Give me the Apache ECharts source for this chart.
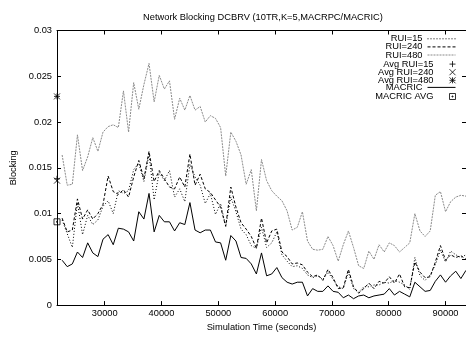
<!DOCTYPE html>
<html><head><meta charset="utf-8">
<script src="https://cdn.jsdelivr.net/npm/echarts@6/dist/echarts.min.js"></script>
<style>html,body{margin:0;padding:0;background:#fff}#c{width:466px;height:337px}</style>
</head><body><div id="c"></div>
<script>
const times = [22500, 23400, 24300, 25200, 26100, 27000, 27900, 28800, 29700, 30600,
  31500, 32400, 33300, 34200, 35100, 36000, 36900, 37800, 38700, 39600,
  40500, 41400, 42300, 43200, 44100, 45000, 45900, 46800, 47700, 48600,
  49500, 50400, 51300, 52200, 53100, 54000, 54900, 55800, 56700, 57600,
  58500, 59400, 60300, 61200, 62100, 63000, 63900, 64800, 65700, 66600,
  67500, 68400, 69300, 70200, 71100, 72000, 72900, 73800, 74700, 75600,
  76500, 77400, 78300, 79200, 80100, 81000, 81900, 82800, 83700, 84600,
  85500, 86400, 87300, 88200, 89100, 90000, 90900, 91800, 92700, 93600];

const rui15 = [0.0093, 0.0078, 0.0063, 0.0112, 0.0077, 0.0098, 0.0088, 0.0093, 0.0108, 0.0114,
  0.0100, 0.0125, 0.0122, 0.0125, 0.0148, 0.0155, 0.0135, 0.0165, 0.0115, 0.0145,
  0.0136, 0.0147, 0.0118, 0.0127, 0.0113, 0.0154, 0.0140, 0.0131, 0.0111, 0.0122,
  0.0099, 0.0111, 0.0086, 0.0118, 0.0102, 0.0083, 0.0077, 0.0065, 0.0062, 0.0085,
  0.0063, 0.0068, 0.0080, 0.0055, 0.0048, 0.0042, 0.0043, 0.0040, 0.0033, 0.0030,
  0.0032, 0.0028, 0.0036, 0.0028, 0.0020, 0.0018, 0.0036, 0.0018, 0.0014, 0.0020,
  0.0020, 0.0022, 0.0022, 0.0025, 0.0024, 0.0027, 0.0025, 0.0022, 0.0017, 0.0052,
  0.0032, 0.0027, 0.0033, 0.0044, 0.0060, 0.0047, 0.0059, 0.0055, 0.0052, 0.0055];

const rui240 = [0.0095, 0.0080, 0.0082, 0.0116, 0.0094, 0.0104, 0.0094, 0.0100, 0.0110, 0.0141,
  0.0124, 0.0121, 0.0126, 0.0118, 0.0140, 0.0158, 0.0138, 0.0168, 0.0135, 0.0147,
  0.0138, 0.0129, 0.0127, 0.0140, 0.0129, 0.0165, 0.0131, 0.0143, 0.0127, 0.0123,
  0.0115, 0.0107, 0.0086, 0.0129, 0.0107, 0.0090, 0.0083, 0.0075, 0.0062, 0.0095,
  0.0068, 0.0081, 0.0083, 0.0058, 0.0053, 0.0045, 0.0046, 0.0044, 0.0036, 0.0031,
  0.0033, 0.0027, 0.0039, 0.0030, 0.0018, 0.0019, 0.0039, 0.0020, 0.0013, 0.0018,
  0.0024, 0.0018, 0.0026, 0.0024, 0.0031, 0.0024, 0.0034, 0.0020, 0.0019, 0.0047,
  0.0036, 0.0030, 0.0031, 0.0047, 0.0065, 0.0049, 0.0055, 0.0052, 0.0054, 0.0050];

const rui480 = [0.0164, 0.0131, 0.0132, 0.0186, 0.0147, 0.0162, 0.0183, 0.0168, 0.0189, 0.0195,
  0.0197, 0.0194, 0.0234, 0.0189, 0.0243, 0.0214, 0.0241, 0.0264, 0.0222, 0.0251,
  0.0236, 0.0245, 0.0203, 0.0226, 0.0213, 0.0229, 0.0213, 0.0217, 0.0200, 0.0207,
  0.0204, 0.0194, 0.0141, 0.0189, 0.0179, 0.0164, 0.0132, 0.0148, 0.0103, 0.0159,
  0.0136, 0.0125, 0.0119, 0.0114, 0.0103, 0.0082, 0.0085, 0.0102, 0.0070, 0.0061,
  0.0060, 0.0061, 0.0075, 0.0065, 0.0048, 0.0066, 0.0081, 0.0063, 0.0043, 0.0040,
  0.0059, 0.0050, 0.0066, 0.0058, 0.0068, 0.0065, 0.0058, 0.0063, 0.0068, 0.0100,
  0.0081, 0.0075, 0.0081, 0.0120, 0.0124, 0.0102, 0.0113, 0.0118, 0.0120, 0.0119];

const macric = [0.0049, 0.0042, 0.0045, 0.0058, 0.0052, 0.0068, 0.0057, 0.0053, 0.0072, 0.0077,
  0.0066, 0.0084, 0.0083, 0.0080, 0.0070, 0.0102, 0.0094, 0.0122, 0.0080, 0.0098,
  0.0091, 0.0091, 0.0081, 0.0090, 0.0088, 0.0112, 0.0082, 0.0079, 0.0082, 0.0082,
  0.0069, 0.0068, 0.0049, 0.0076, 0.0070, 0.0052, 0.0051, 0.0045, 0.0034, 0.0057,
  0.0032, 0.0034, 0.0041, 0.0030, 0.0025, 0.0023, 0.0025, 0.0025, 0.0010, 0.0018,
  0.0015, 0.0015, 0.0021, 0.0015, 0.0014, 0.0008, 0.0011, 0.0007, 0.0010, 0.0011,
  0.0008, 0.0010, 0.0011, 0.0012, 0.0018, 0.0011, 0.0015, 0.0012, 0.0009, 0.0025,
  0.0020, 0.0015, 0.0016, 0.0026, 0.0033, 0.0025, 0.0032, 0.0037, 0.0029, 0.0038];

const avgTime = [21600];
const avgRui15 = [0.0138];
const avgRui240 = [0.0136];
const avgRui480 = [0.0228];
const macricAvg = [0.0091];

const xTicks = [30000, 40000, 50000, 60000, 70000, 80000, 90000];
const yTicks = [0, 0.005, 0.01, 0.015, 0.02, 0.025, 0.03];

const FONT = 'Liberation Sans';
const FS = 9.3;
const pair = arr => times.map((t, i) => [t, arr[i]]);
const avgPair = arr => avgTime.map((t, i) => [t, arr[i]]);

const SYM = {
  plus: 'path://M3 0L3 6M0 3L6 3',
  cross: 'path://M0 0L6 6M6 0L0 6',
  star: 'path://M3 0L3 6M0 3L6 3M0 0L6 6M6 0L0 6',
  box: 'path://M0 0L6 0L6 6L0 6ZM2.5 2.5L3.5 2.5L3.5 3.5L2.5 3.5Z'
};
const DASH = { rui15: [1, 2], rui240: [3, 2], rui480: [2, 1] };

function lineSeries(name, arr, color, type) {
  return {
    name, type: 'line', data: pair(arr), symbol: 'none', showSymbol: false,
    color, lineStyle: { color, width: 1, type }, clip: true, silent: true,
    animation: false
  };
}
function scatterSeries(name, arr, sym) {
  return {
    name, type: 'scatter', data: avgPair(arr), symbol: sym, symbolSize: 6,
    clip: false, silent: true, animation: false, color: '#000',
    itemStyle: { color: 'transparent', borderColor: '#000', borderWidth: 1 }
  };
}

const legendRows = [
  ['RUI=15', 'line', '#000', DASH.rui15], ['RUI=240', 'line', '#000', DASH.rui240], ['RUI=480', 'line', '#8a8a8a', DASH.rui480],
  ['Avg RUI=15', 'pt'], ['Avg RUI=240', 'pt'], ['Avg RUI=480', 'pt'],
  ['MACRIC', 'line', '#000', 'solid'], ['MACRIC AVG', 'pt']
];
const legends = legendRows.map((r, k) => {
  const h = r[1] === 'line' ? 8 : 6;
  const cy = 38.3 + 8.1 * k;
  const lg = {
    data: [r[0]], orient: 'vertical', right: 10, top: cy - h / 2, padding: 0,
    align: 'right', itemWidth: 28, itemHeight: h, itemGap: 0, selectedMode: false,
    textStyle: { fontFamily: FONT, fontSize: FS, color: '#000' }
  };
  if (r[1] === 'pt') {
    lg.itemStyle = { color: 'transparent', borderColor: '#000', borderWidth: 1 };
  } else {
    lg.itemStyle = { opacity: 0 };
    lg.lineStyle = { width: 1, color: r[2], type: r[3] };
  }
  return lg;
});

const axisCommonX = {
  type: 'value', min: 21600, max: 93600, splitLine: { show: false },
  axisLine: { show: true, onZero: false, lineStyle: { color: '#000', width: 1 } }
};
const axisCommonY = {
  type: 'value', min: 0, max: 0.03, interval: 0.005, splitLine: { show: false },
  axisLine: { show: true, onZero: false, lineStyle: { color: '#000', width: 1 } }
};

const option = {
  backgroundColor: '#fff',
  animation: false,
  title: {
    text: 'Network Blocking DCBRV (10TR,K=5,MACRPC/MACRIC)',
    left: 263, top: 12.5, textAlign: 'center', padding: 0,
    textStyle: { fontFamily: FONT, fontSize: FS, fontWeight: 'normal', color: '#000' }
  },
  legend: legends,
  grid: { left: 57, right: -2.4, top: 30.5, bottom: 26.5, containLabel: false },
  xAxis: [
    Object.assign({}, axisCommonX, {
      position: 'bottom',
      name: 'Simulation Time (seconds)', nameLocation: 'middle', nameGap: 16,
      nameTextStyle: { fontFamily: FONT, fontSize: FS, color: '#000' },
      axisTick: { show: true, inside: true, length: 4, customValues: xTicks, lineStyle: { color: '#000' } },
      axisLabel: { show: true, customValues: xTicks, margin: 4, fontFamily: FONT, fontSize: FS, color: '#000',
        formatter: v => String(v) }
    }),
    Object.assign({}, axisCommonX, {
      position: 'top',
      axisTick: { show: true, inside: true, length: 4, customValues: xTicks, lineStyle: { color: '#000' } },
      axisLabel: { show: false, customValues: xTicks }
    })
  ],
  yAxis: [
    Object.assign({}, axisCommonY, {
      position: 'left',
      name: 'Blocking', nameLocation: 'middle', nameGap: 38, nameRotate: 90,
      nameTextStyle: { fontFamily: FONT, fontSize: FS, color: '#000' },
      axisTick: { show: true, inside: true, length: 4, lineStyle: { color: '#000' } },
      axisLabel: { show: true, margin: 5, fontFamily: FONT, fontSize: FS, color: '#000',
        formatter: v => String(+v.toFixed(4)) }
    }),
    Object.assign({}, axisCommonY, {
      position: 'right',
      axisTick: { show: true, inside: true, length: 4, lineStyle: { color: '#000' } },
      axisLabel: { show: false }
    })
  ],
  series: [
    lineSeries('RUI=15', rui15, '#000', DASH.rui15),
    lineSeries('RUI=240', rui240, '#000', DASH.rui240),
    lineSeries('RUI=480', rui480, '#8a8a8a', DASH.rui480),
    scatterSeries('Avg RUI=15', avgRui15, SYM.plus),
    scatterSeries('Avg RUI=240', avgRui240, SYM.cross),
    scatterSeries('Avg RUI=480', avgRui480, SYM.star),
    lineSeries('MACRIC', macric, '#000', 'solid'),
    scatterSeries('MACRIC AVG', macricAvg, SYM.box)
  ]
};
const chart = echarts.init(document.getElementById('c'), null, { renderer: 'canvas' });
chart.setOption(option);
</script>
</body></html>
